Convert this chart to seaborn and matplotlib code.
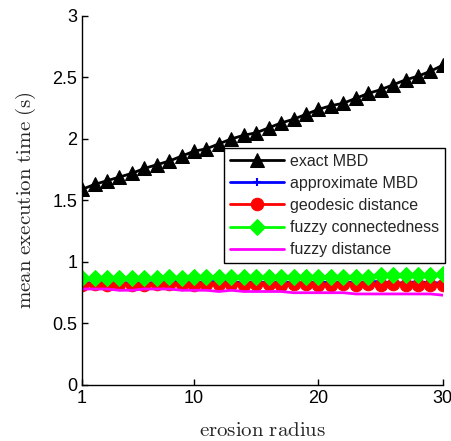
import numpy as np
import pandas as pd
import matplotlib
matplotlib.use("Agg")
import matplotlib.pyplot as plt
import seaborn as sns

# data
radius = list(range(1, 31))
exact_mbd = [1.59, 1.63, 1.66, 1.69, 1.72, 1.76, 1.79, 1.82, 1.86, 1.90,
             1.92, 1.96, 2.00, 2.03, 2.05, 2.09, 2.13, 2.16, 2.20, 2.24,
             2.27, 2.29, 2.33, 2.37, 2.40, 2.44, 2.48, 2.51, 2.55, 2.60]
approx_mbd = [0.83, 0.83, 0.83, 0.83, 0.83, 0.83, 0.83, 0.84, 0.84, 0.83,
              0.84, 0.84, 0.84, 0.83, 0.84, 0.83, 0.84, 0.83, 0.83, 0.84,
              0.83, 0.84, 0.83, 0.84, 0.84, 0.83, 0.83, 0.84, 0.83, 0.83]
geodesic = [0.81, 0.82, 0.81, 0.82, 0.81, 0.81, 0.82, 0.82, 0.82, 0.81,
            0.82, 0.82, 0.82, 0.81, 0.82, 0.82, 0.81, 0.82, 0.82, 0.81,
            0.81, 0.82, 0.81, 0.82, 0.81, 0.82, 0.81, 0.81, 0.81, 0.81]
fuzzy_conn = [0.87, 0.87, 0.87, 0.87, 0.87, 0.87, 0.87, 0.88, 0.87, 0.88,
              0.88, 0.88, 0.88, 0.88, 0.88, 0.88, 0.88, 0.88, 0.88, 0.88,
              0.88, 0.88, 0.88, 0.88, 0.89, 0.89, 0.89, 0.89, 0.89, 0.90]
fuzzy_dist = [0.78, 0.78, 0.78, 0.77, 0.77, 0.78, 0.78, 0.78, 0.77, 0.77,
              0.77, 0.76, 0.77, 0.76, 0.76, 0.76, 0.76, 0.75, 0.75, 0.75,
              0.75, 0.75, 0.74, 0.74, 0.74, 0.74, 0.74, 0.74, 0.74, 0.73]

series_names = ["exact MBD", "approximate MBD", "geodesic distance",
                "fuzzy connectedness", "fuzzy distance"]
series_values = [exact_mbd, approx_mbd, geodesic, fuzzy_conn, fuzzy_dist]

x_ticks = [1, 10, 20, 30]
y_ticks = [0, 0.5, 1, 1.5, 2, 2.5, 3]
y_tick_labels = ["0", "0.5", "1", "1.5", "2", "2.5", "3"]

styles = {
    "exact MBD": dict(color="black", marker="^", markersize=10),
    "approximate MBD": dict(color="blue", marker="+", markersize=6, markeredgewidth=1.5),
    "geodesic distance": dict(color="red", marker="o", markersize=9),
    "fuzzy connectedness": dict(color="#00ff00", marker="D", markersize=8.5),
    "fuzzy distance": dict(color="magenta", marker=None),
}

sns.set_style("ticks")
plt.rcParams["font.family"] = ["Liberation Sans", "DejaVu Sans"]
plt.rcParams["mathtext.fontset"] = "cm"

fig = plt.figure(figsize=(4.51, 4.41), dpi=100)
ax = fig.add_axes([0.182, 0.127, 0.80, 0.837])

for name, vals in zip(series_names, series_values):
    df = pd.DataFrame({"radius": radius, "time": vals})
    sns.lineplot(data=df, x="radius", y="time", ax=ax, label=name,
                 linewidth=2, markeredgecolor=styles[name]["color"],
                 **styles[name])

ax.set_xlim(1, 30)
ax.set_ylim(0, 3)
ax.set_xticks(x_ticks)
ax.set_xticklabels([str(t) for t in x_ticks])
ax.set_yticks(y_ticks)
ax.set_yticklabels(y_tick_labels)
ax.tick_params(direction="in", labelsize=13, length=4, width=1, colors="black")
for side in ["top", "right"]:
    ax.spines[side].set_visible(False)
for side in ["left", "bottom"]:
    ax.spines[side].set_color("black")
    ax.spines[side].set_linewidth(1)

ax.set_xlabel(r"$\mathrm{erosion\ radius}$", fontsize=15, labelpad=10)
ax.set_ylabel(r"$\mathrm{mean\ execution\ time\ (s)}$", fontsize=15, labelpad=10)

leg = ax.legend(loc="upper right", bbox_to_anchor=(1.006, 0.642),
                borderaxespad=0, fontsize=11.5, fancybox=False, frameon=True,
                edgecolor="black", framealpha=1, handlelength=3.4,
                labelspacing=0.45, handletextpad=0.4, borderpad=0.35)
leg.get_frame().set_linewidth(1)

fig.savefig("out.png", dpi=100)
